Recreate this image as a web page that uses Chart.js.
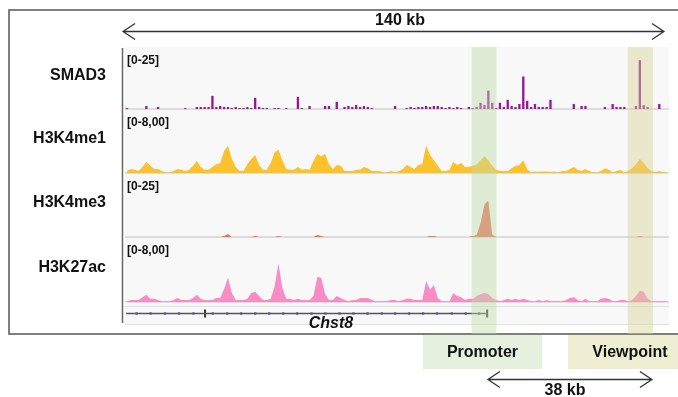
<!DOCTYPE html>
<html>
<head>
<meta charset="utf-8">
<style>
  html, body { margin: 0; padding: 0; background: #fff; }
  canvas { display: block; }
</style>
<script src="https://cdn.jsdelivr.net/npm/chart.js@4.4.1/dist/chart.umd.min.js"></script>
</head>
<body>
<canvas id="tracks" width="678" height="397"></canvas>
<script>
const regionKb = 140;
const trackNames = ['SMAD3', 'H3K4me1', 'H3K4me3', 'H3K27ac'];
const trackRanges = ['[0-25]', '[0-8,00]', '[0-25]', '[0-8,00]'];
const trackMax = [25, 8, 25, 8];
const trackColors = ['#9b129b', '#fcc22c', '#ec6f5e', '#f88cc4'];

const smad3 = [
  0.4, 0, 0, 0, 0, 1.2, 0, 0, 0.8, 0,
  0, 0, 0, 0, 0, 0.4, 0, 0, 0.8, 0.8,
  0.8, 0.8, 5.3, 0.8, 1.2, 0.8, 0.8, 0.4, 0.8, 0.4,
  0.4, 0.8, 0.4, 4.5, 0.8, 0.4, 0.4, 0, 0.4, 0.4,
  0, 0.4, 0, 0, 4.9, 0.4, 0, 1.2, 0, 0,
  0, 1.2, 1.2, 0, 2.9, 0, 0.8, 1.2, 0.8, 1.6,
  0.8, 1.2, 0.8, 0.4, 0, 0, 0, 0, 0, 1.2,
  0, 0, 0.4, 0.8, 0.4, 0.8, 0.8, 1.2, 0.8, 1.2,
  1.2, 0.8, 0.4, 0.8, 0.4, 0.8, 0.4, 0, 0.8, 0.4,
  0.8, 2.5, 1.6, 7.4, 2.5, 0.4, 2.5, 0.8, 3.7, 1.2,
  0.8, 2.0, 13.1, 3.3, 0.8, 2.0, 0.8, 0.8, 0.8, 3.7,
  0, 0, 0, 0, 0, 2.0, 0, 1.2, 1.2, 0,
  0, 0, 0, 0.8, 0, 2.0, 0.8, 0.8, 0.8, 0,
  0, 1.2, 19.7, 1.6, 0.8, 0, 0, 2.0, 0, 0
];

const h3k4me1 = [
  0.25, 0.5, 0.4, 0.25, 0.75, 1.4, 0.9, 0.5, 0.5, 0.25,
  0.1, 0.1, 0.25, 0.5, 0.4, 0.25, 0.4, 0.9, 1.5, 0.75,
  0.4, 0.4, 0.75, 1.1, 1.25, 2.75, 3.4, 1.75, 0.75, 0.25,
  0.25, 1.1, 1.75, 2.25, 1.0, 0.4, 0.4, 1.25, 2.6, 2.9,
  1.6, 0.5, 0.4, 0.4, 0.75, 0.4, 0.5, 0.4, 1.5, 2.4,
  2.1, 2.4, 1.1, 0.5, 1.0, 0.9, 0.25, 0.25, 0.25, 0.4,
  0.4, 0.75, 0.6, 0.25, 0.25, 0.25, 0.1, 0.1, 0.25, 0.1,
  0.25, 0.5, 1.0, 0.75, 0.5, 1.0, 1.1, 3.5, 2.25, 1.6,
  0.9, 0.25, 0.25, 0.4, 1.4, 1.0, 1.25, 0.75, 0.75, 0.9,
  1.1, 1.6, 2.1, 1.6, 0.9, 0.4, 0.25, 0.25, 0.25, 0.6,
  0.9, 1.0, 1.6, 0.5, 0.1, 0.2, 0.15, 0.2, 0.2, 0.15,
  0.2, 0.1, 0.25, 0.25, 0.5, 0.75, 0.4, 0.25, 0.5, 0.25,
  0.1, 0.1, 0.25, 0.6, 0.4, 0.1, 0.25, 0.4, 0.1, 0.25,
  0.6, 1.1, 1.75, 1.25, 0.6, 0.25, 0.1, 0.25, 0.1, 0.1
];

const h3k4me3 = [
  0, 0, 0, 0, 0, 0, 0, 0, 0, 0,
  0, 0, 0, 0, 0, 0, 0, 0, 0, 0,
  0, 0, 0, 0, 0, 0.4, 1.2, 0, 0, 0,
  0, 0, 0, 0.4, 0, 0, 0, 0, 0, 0.4,
  0, 0, 0, 0, 0, 0, 0, 0, 0, 0.8,
  0.4, 0, 0, 0, 0, 0, 0, 0, 0, 0,
  0, 0, 0, 0, 0, 0, 0, 0, 0, 0,
  0, 0, 0, 0, 0, 0, 0, 0, 0.4, 0.4,
  0, 0, 0, 0, 0, 0, 0, 0, 0, 0.4,
  0.8, 5.5, 12.7, 14.3, 1.0, 0, 0, 0, 0, 0,
  0, 0, 0, 0, 0, 0, 0, 0, 0, 0,
  0, 0, 0, 0, 0, 0, 0, 0, 0, 0,
  0, 0, 0, 0, 0, 0, 0, 0, 0, 0,
  0, 0, 0.4, 0, 0, 0, 0, 0, 0, 0
];

const h3k27ac = [
  0.1, 0.25, 0.25, 0.25, 0.6, 0.9, 0.4, 0.4, 0.25, 0.1,
  0.1, 0.1, 0.25, 0.5, 0.25, 0.25, 0.25, 0.5, 0.9, 0.4,
  0.25, 0.25, 0.25, 0.5, 0.5, 1.6, 3.0, 1.1, 0.25, 0.25,
  0.25, 0.4, 1.1, 1.25, 0.75, 0.25, 0.25, 0.4, 1.9, 4.75,
  1.75, 0.4, 0.4, 0.25, 0.4, 0.25, 0.25, 0.25, 0.75, 3.1,
  3.0, 1.0, 0.25, 0.25, 0.75, 0.5, 0.25, 0.1, 0.25, 0.25,
  0.5, 0.5, 0.5, 0.25, 0.1, 0.1, 0.1, 0.1, 0.25, 0.25,
  0.1, 0.25, 0.4, 0.4, 0.25, 0.25, 0.25, 2.6, 1.5, 2.1,
  0.5, 0.1, 0.1, 0.1, 1.1, 0.75, 0.6, 0.25, 0.4, 0.4,
  0.75, 1.0, 1.1, 1.0, 0.5, 0.25, 0.1, 0.25, 0.4, 0.25,
  0.4, 0.25, 0.4, 0.25, 0.1, 0.1, 0.25, 0.1, 0.25, 0.1,
  0.1, 0.1, 0.1, 0.25, 0.5, 0.6, 0.25, 0.1, 0.4, 0.1,
  0.1, 0.1, 0.4, 0.5, 0.4, 0.1, 0.1, 0.25, 0.25, 0.1,
  0.25, 0.75, 1.4, 1.25, 0.4, 0.1, 0.1, 0.1, 0.1, 0.1
];

// Gene model (kb)
const geneName = 'Chst8';
const geneSpan = [0.3, 93.2];
const geneStrandMarks = [3.0, 6.6, 10.3, 13.9, 17.6, 22.6, 26.3, 29.9, 33.5, 37.1, 40.7, 44.3,
  48.0, 51.6, 55.2, 58.8, 62.4, 66.1, 69.5, 73.1, 76.7, 80.3, 84.1, 87.7, 91.1];
const geneTicks = [20.6, 93.2];

// Highlighted regions and span arrows (kb)
const promoter = [89.2, 95.6];
const viewpoint = [129.4, 135.9];
const spanArrow = [-0.5, 138.7];
const spanLabel = '140 kb';
const distArrow = [93.4, 135.6];
const distLabel = '38 kb';

const binCenters = smad3.map((_, i) => i + 0.5);
const toPoints = arr => arr.map((v, i) => ({ x: binCenters[i], y: v }));
const trackAxes = ['yS', 'yM1', 'yM3', 'yAc'];
const boldFont = 'bold 16px "Liberation Sans", Arial, sans-serif';

function drawArrow(ctx, x1, x2, y) {
  ctx.beginPath();
  ctx.moveTo(x1, y); ctx.lineTo(x2, y);
  ctx.moveTo(x1 + 12, y - 8); ctx.lineTo(x1, y); ctx.lineTo(x1 + 12, y + 8);
  ctx.moveTo(x2 - 12, y - 8); ctx.lineTo(x2, y); ctx.lineTo(x2 - 12, y + 8);
  ctx.stroke();
}

function hline(ctx, x1, x2, y) {
  ctx.beginPath(); ctx.moveTo(x1, y); ctx.lineTo(x2, y); ctx.stroke();
}

const decor = {
  id: 'decor',
  beforeDraw(chart) {
    const { ctx, chartArea: a, scales } = chart;
    ctx.save();
    ctx.fillStyle = '#fff';
    ctx.fillRect(0, 0, chart.width, chart.height);
    // outer frame
    ctx.strokeStyle = '#555';
    ctx.lineWidth = 1.5;
    ctx.strokeRect(9, 10, 720, 324);
    // track panel
    ctx.fillStyle = '#f8f8f8';
    ctx.fillRect(a.left, a.top, a.right - a.left, a.bottom - a.top);
    ctx.strokeStyle = '#d4d4d4';
    ctx.lineWidth = 1.5;
    trackAxes.forEach(id => hline(ctx, a.left, a.right, scales[id].bottom));
    ctx.strokeStyle = '#e2e2e2';
    ctx.lineWidth = 1;
    hline(ctx, a.left, a.right, scales.yG.top + 4.5);
    hline(ctx, a.left, a.right, a.bottom - 0.5);
    ctx.restore();
  },
  afterDatasetsDraw(chart) {
    const { ctx, chartArea: a, scales: { x } } = chart;
    ctx.save();
    const cols = [[promoter, 'rgba(190,222,170,0.45)'], [viewpoint, 'rgba(216,210,150,0.45)']];
    cols.forEach(([r, c]) => {
      const x1 = x.getPixelForValue(r[0]), x2 = x.getPixelForValue(r[1]);
      ctx.fillStyle = c;
      ctx.fillRect(x1, a.top, x2 - x1, 334 - a.top);
    });
    ctx.restore();
  },
  afterDraw(chart) {
    const { ctx, chartArea: a, scales } = chart;
    const x = scales.x;
    ctx.save();
    // left axis line
    ctx.strokeStyle = '#666';
    ctx.lineWidth = 1.5;
    ctx.beginPath(); ctx.moveTo(122.5, a.top + 1); ctx.lineTo(122.5, a.bottom - 2); ctx.stroke();

    // track names and data ranges
    ctx.fillStyle = '#111';
    ctx.textBaseline = 'middle';
    trackAxes.forEach((id, i) => {
      const s = scales[id];
      ctx.font = boldFont;
      ctx.textAlign = 'right';
      ctx.fillText(trackNames[i], 106, (s.top + s.bottom) / 2 - 2);
      ctx.font = 'bold 12px "Liberation Sans", Arial, sans-serif';
      ctx.textAlign = 'left';
      ctx.fillText(trackRanges[i], 127, s.top + 14);
    });

    // gene name
    ctx.font = 'bold italic 16px "Liberation Sans", Arial, sans-serif';
    ctx.textAlign = 'center';
    ctx.fillText(geneName, 331, 324);

    // region labels below the panel
    const boxes = [[423, 542, '#e6f0de', 'Promoter', 482.5], [568, 720, '#efeed3', 'Viewpoint', 630]];
    boxes.forEach(([x1, x2, c, t, tx]) => {
      ctx.fillStyle = c;
      ctx.fillRect(x1, 335, x2 - x1, 34);
      ctx.fillStyle = '#111';
      ctx.font = boldFont;
      ctx.fillText(t, tx, 353);
    });

    // span arrows
    ctx.strokeStyle = '#333';
    ctx.lineWidth = 1.3;
    drawArrow(ctx, x.getPixelForValue(spanArrow[0]), x.getPixelForValue(spanArrow[1]), 31.5);
    drawArrow(ctx, x.getPixelForValue(distArrow[0]), x.getPixelForValue(distArrow[1]), 379.5);
    ctx.fillStyle = '#111';
    ctx.font = boldFont;
    ctx.fillText(spanLabel, 400, 21);
    ctx.fillText(distLabel, 565, 391);
    ctx.restore();
  }
};

function trackAxis(max, weight, stackWeight) {
  return { type: 'linear', display: false, position: 'left', min: 0, max,
           stack: 'tracks', stackWeight, weight };
}

function signal(data, axis, color) {
  return { type: 'line', data: toPoints(data), yAxisID: axis, borderWidth: 0,
           borderColor: color, backgroundColor: color, fill: 'origin',
           pointRadius: 0, tension: 0 };
}

new Chart(document.getElementById('tracks'), {
  type: 'line',
  data: {
    datasets: [
      { type: 'bar', data: toPoints(smad3), yAxisID: 'yS', backgroundColor: trackColors[0],
        barPercentage: 0.6, categoryPercentage: 1, borderWidth: 0 },
      signal(h3k4me1, 'yM1', trackColors[1]),
      signal(h3k4me3, 'yM3', trackColors[2]),
      signal(h3k27ac, 'yAc', trackColors[3]),
      { type: 'line', data: geneSpan.map(v => ({ x: v, y: 0.5 })), yAxisID: 'yG',
        borderColor: '#555', borderWidth: 1.5, pointRadius: 0 },
      { type: 'line', data: geneStrandMarks.map(v => ({ x: v, y: 0.5 })), yAxisID: 'yG',
        showLine: false, pointStyle: 'rect', pointRadius: 1.6, backgroundColor: '#4a4ad8', borderWidth: 0 },
      { type: 'line', data: geneTicks.map(v => ({ x: v, y: 0.5 })), yAxisID: 'yG',
        showLine: false, pointStyle: 'line', rotation: 90, pointRadius: 4, borderColor: '#333', borderWidth: 2 }
    ]
  },
  options: {
    responsive: false,
    animation: false,
    devicePixelRatio: 1,
    layout: { padding: { left: 125, right: 9, top: 47, bottom: 72 } },
    plugins: { legend: { display: false }, tooltip: { enabled: false } },
    scales: {
      x: { type: 'linear', display: false, min: 0, max: regionKb, offset: false },
      yS: trackAxis(trackMax[0], 5, 62),
      yM1: trackAxis(trackMax[1], 4, 64),
      yM3: trackAxis(trackMax[2], 3, 64),
      yAc: trackAxis(trackMax[3], 2, 65),
      yG: { type: 'linear', display: false, position: 'left', min: 0, max: 1,
            stack: 'tracks', stackWeight: 23, weight: 1 }
    }
  },
  plugins: [decor]
});
</script>
</body>
</html>
